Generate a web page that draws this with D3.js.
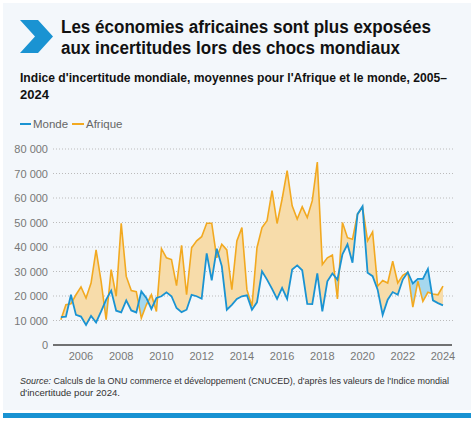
<!DOCTYPE html>
<html><head><meta charset="utf-8">
<script src="https://cdn.jsdelivr.net/npm/d3@7"></script>
<style>body{margin:0;background:#fff;font-family:"Liberation Sans",Arial,sans-serif}</style>
</head><body>
<svg id="c" width="474" height="423"></svg>
<script>
const startYear = 2005;
const afrique = [10.3,16.4,16.8,20.5,23.7,19.2,25.3,38.8,26,10.3,30.8,19.9,49.7,28,22.2,21.8,11,16.4,20.5,13.7,39.3,35.6,34.9,24.2,40.7,20.5,39.7,42.5,44.2,49.7,49.7,35.6,41.1,38.8,22.6,42.5,47.9,22.6,15.8,39.7,47.9,50.7,63,49.6,59.6,71.2,56.8,51.4,56.4,52,58.9,74.7,32.9,35.6,36.7,18.8,50,43.8,43.2,53.4,56.2,42.5,46.2,24,26.3,25.3,34.2,25.3,28.4,29.7,15.5,26,17.8,21.5,20.8,20.5,24].map(v=>v*1000);
const monde = [11.4,11.6,20.5,12.3,11.6,8.2,11.9,9.2,13.7,18.5,22.2,14,13.3,18.2,14.1,13.3,21.9,19.2,14.7,19.2,19.9,21.5,19.9,15.1,13.4,14.4,20.5,19.9,18.9,37.4,26.4,39.3,32.2,14.4,16.4,18.8,19.9,20.3,14.4,17.4,30.1,26.7,22.9,18.8,23.3,18.8,30.8,32.5,30.5,16.8,16.7,29.2,13.7,26,29.2,26.7,37,41.1,33.6,53.4,56.6,29.5,28.1,22.6,12.3,18.5,21.6,20.5,26.7,29.7,25.1,27,27,31.1,18.2,17.1,16.2].map(v=>v*1000);
const yTicks = [0,10000,20000,30000,40000,50000,60000,70000,80000];
const xTicks = [2006,2008,2010,2012,2014,2016,2018,2020,2022,2024];

const data = afrique.map((a,i)=>({t:startYear+i/4,a,m:monde[i]}));
const svg = d3.select("#c");
svg.append("rect").attr("x",3).attr("y",3).attr("width",468).attr("height",407).attr("fill","#f3f7fb");
svg.append("rect").attr("x",3).attr("y",413).attr("width",468).attr("height",5).attr("fill","#1a93d2");
svg.append("path").attr("d","M20,20 L38,20 L53,36.5 L38,53 L20,53 L35,36.5Z").attr("fill","#1a93d2");
const T = svg.append("g").attr("font-weight","bold").attr("fill","#111");
T.append("text").attr("x",61).attr("y",33).attr("font-size",17.5).attr("textLength",370).attr("lengthAdjust","spacingAndGlyphs").text("Les économies africaines sont plus exposées");
T.append("text").attr("x",61).attr("y",54).attr("font-size",17.5).attr("textLength",339).attr("lengthAdjust","spacingAndGlyphs").text("aux incertitudes lors des chocs mondiaux");
T.append("text").attr("x",20).attr("y",82).attr("font-size",13).attr("textLength",427).attr("lengthAdjust","spacingAndGlyphs").text("Indice d'incertitude mondiale, moyennes pour l'Afrique et le monde, 2005–");
T.append("text").attr("x",20).attr("y",99).attr("font-size",13).text("2024");
const lg = svg.append("g").attr("font-size",11.5).attr("fill","#666");
lg.append("line").attr("x1",20).attr("x2",31).attr("y1",124).attr("y2",124).attr("stroke","#1a93d2").attr("stroke-width",2);
lg.append("text").attr("x",33).attr("y",128).text("Monde");
lg.append("line").attr("x1",72).attr("x2",84).attr("y1",124).attr("y2",124).attr("stroke","#f2a920").attr("stroke-width",2);
lg.append("text").attr("x",86).attr("y",128).text("Afrique");

const x = d3.scaleLinear().domain([2006,2024]).range([81,443]);
const y = d3.scaleLinear().domain([0,80000]).range([345,149]);
const g = svg.append("g");
yTicks.forEach(v=>{
  if(v>0) g.append("line").attr("x1",53).attr("x2",455).attr("y1",y(v)).attr("y2",y(v)).attr("stroke","#bbb").attr("stroke-dasharray","1,2");
  g.append("text").attr("x",48).attr("y",y(v)+4).attr("text-anchor","end").attr("font-size",11).attr("fill","#777").text(d3.format(",")(v).replace(/,/g," "));
});
xTicks.forEach(v=>g.append("text").attr("x",x(v)).attr("y",360).attr("text-anchor","middle").attr("font-size",11).attr("fill","#777").text(v));

const defs = svg.append("defs");
defs.append("clipPath").attr("id","above").append("path").attr("d",d3.area().x(d=>x(d.t)).y0(0).y1(d=>y(d.m))(data));
defs.append("clipPath").attr("id","below").append("path").attr("d",d3.area().x(d=>x(d.t)).y0(423).y1(d=>y(d.m))(data));
const band = d3.area().x(d=>x(d.t)).y0(d=>y(d.m)).y1(d=>y(d.a));
g.append("path").attr("d",band(data)).attr("fill","#f7dcaa").attr("clip-path","url(#above)");
g.append("path").attr("d",band(data)).attr("fill","#a6d8ee").attr("clip-path","url(#below)");
g.append("line").attr("x1",53).attr("x2",452).attr("y1",345).attr("y2",345).attr("stroke","#444").attr("stroke-width",1.3);
const ln = k=>d3.line().x(d=>x(d.t)).y(d=>y(d[k]));
g.append("path").attr("d",ln("a")(data)).attr("fill","none").attr("stroke","#f2a920").attr("stroke-width",1.6);
g.append("path").attr("d",ln("m")(data)).attr("fill","none").attr("stroke","#1a93d2").attr("stroke-width",1.8);

const s = svg.append("text").attr("x",20).attr("y",384).attr("font-size",9.6).attr("fill","#333").attr("textLength",429).attr("lengthAdjust","spacingAndGlyphs");
s.append("tspan").attr("font-style","italic").text("Source:");
s.append("tspan").text(" Calculs de la ONU commerce et développement (CNUCED), d'après les valeurs de l'Indice mondial");
svg.append("text").attr("x",20).attr("y",396).attr("font-size",9.6).attr("fill","#333").text("d'incertitude pour 2024.");
</script></body></html>
